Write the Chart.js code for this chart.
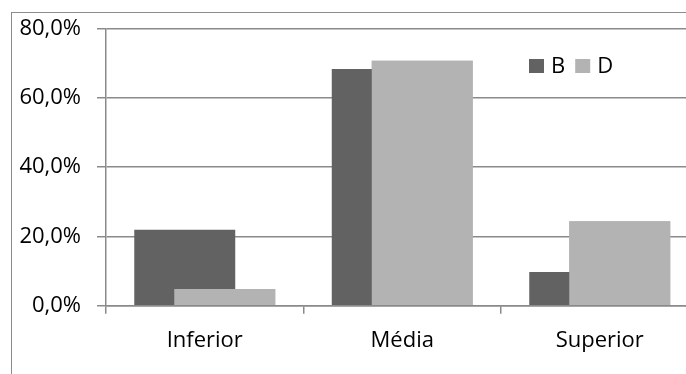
<!DOCTYPE html>
<html>
<head>
<meta charset="utf-8">
<script src="https://cdn.jsdelivr.net/npm/chart.js@4/dist/chart.umd.min.js"></script>
<style>
  html, body { margin: 0; padding: 0; width: 686px; height: 374px; overflow: hidden; background: #fff; }
  #frame { position: absolute; left: 11px; top: 12px; width: 700px; height: 380px;
           border-left: 1px solid #8c8c8c; border-top: 1px solid #8c8c8c; }
  #frame canvas { display: block; }
</style>
</head>
<body>
<div id="frame"><canvas id="c" width="700" height="380"></canvas></div>
<script>
// Share of results per level, in percent
const categories = ['Inferior', 'Média', 'Superior'];
const seriesB = [21.9, 68.3, 9.7];
const seriesD = [4.8, 70.7, 24.4];
const seriesNames = ['B', 'D'];
const seriesColors = ['#626262', '#b3b3b3'];
const yTickLabels = ['0,0%', '20,0%', '40,0%', '60,0%', '80,0%'];

const FONT = '"Open Sans", "DejaVu Sans", sans-serif';
const FONT_SIZE = 22;
const TEXT_COLOR = '#000';
const AXIS_GREY = '#8a8a8a';

Chart.defaults.font.family = FONT;
Chart.defaults.font.size = FONT_SIZE;
Chart.defaults.color = TEXT_COLOR;

// The second series is painted over the first where the bars overlap
const lightOnTop = {
  id: 'lightOnTop',
  afterDatasetsDraw(chart) {
    const meta = chart.getDatasetMeta(1);
    if (meta && meta.visible) meta.controller.draw();
  }
};

// Legend drawn inside the plot, top right
const insideLegend = {
  id: 'insideLegend',
  afterDatasetsDraw(chart) {
    const { ctx, chartArea } = chart;
    const box = { w: 15, h: 14 };
    let x = chartArea.left + 423;
    const y = chartArea.top + 30.5;
    ctx.save();
    ctx.font = FONT_SIZE + 'px ' + FONT;
    ctx.textBaseline = 'alphabetic';
    chart.data.datasets.forEach(ds => {
      ctx.fillStyle = ds.backgroundColor;
      ctx.fillRect(x, y, box.w, box.h);
      x += box.w + 7;
      ctx.fillStyle = TEXT_COLOR;
      ctx.fillText(ds.label, x, y + box.h);
      x += ctx.measureText(ds.label).width + 10;
    });
    ctx.restore();
  }
};

new Chart(document.getElementById('c'), {
  type: 'bar',
  data: {
    labels: categories,
    datasets: [
      { label: seriesNames[0], data: seriesB, backgroundColor: seriesColors[0] },
      { label: seriesNames[1], data: seriesD, backgroundColor: seriesColors[1] }
    ]
  },
  options: {
    responsive: false,
    animation: false,
    devicePixelRatio: 1,
    // bars wider than their slot so the two series overlap
    categoryPercentage: 0.405,
    barPercentage: 2.525,
    layout: { padding: { top: 15.5, right: 13.5, left: 0, bottom: 0 } },
    plugins: { legend: { display: false }, tooltip: { enabled: false } },
    scales: {
      x: {
        grid: { display: true, drawOnChartArea: false, drawTicks: true, tickLength: 8,
                color: AXIS_GREY, lineWidth: 1.5 },
        border: { display: true, color: AXIS_GREY, width: 1.5 },
        ticks: { padding: 14, color: TEXT_COLOR },
        afterFit(scale) { scale.height = 87.3; }
      },
      y: {
        min: 0, max: 80,
        ticks: { stepSize: 20, padding: 16, color: TEXT_COLOR,
                 callback: (v, i) => yTickLabels[i] },
        grid: { color: AXIS_GREY, lineWidth: 1.5, tickLength: 9 },
        border: { display: true, color: AXIS_GREY, width: 1.5 },
        afterFit(scale) {
          scale.width = 94;
          scale.paddingTop = 0;
          scale.paddingBottom = 0;
        }
      }
    }
  },
  plugins: [lightOnTop, insideLegend]
});
</script>
</body>
</html>
